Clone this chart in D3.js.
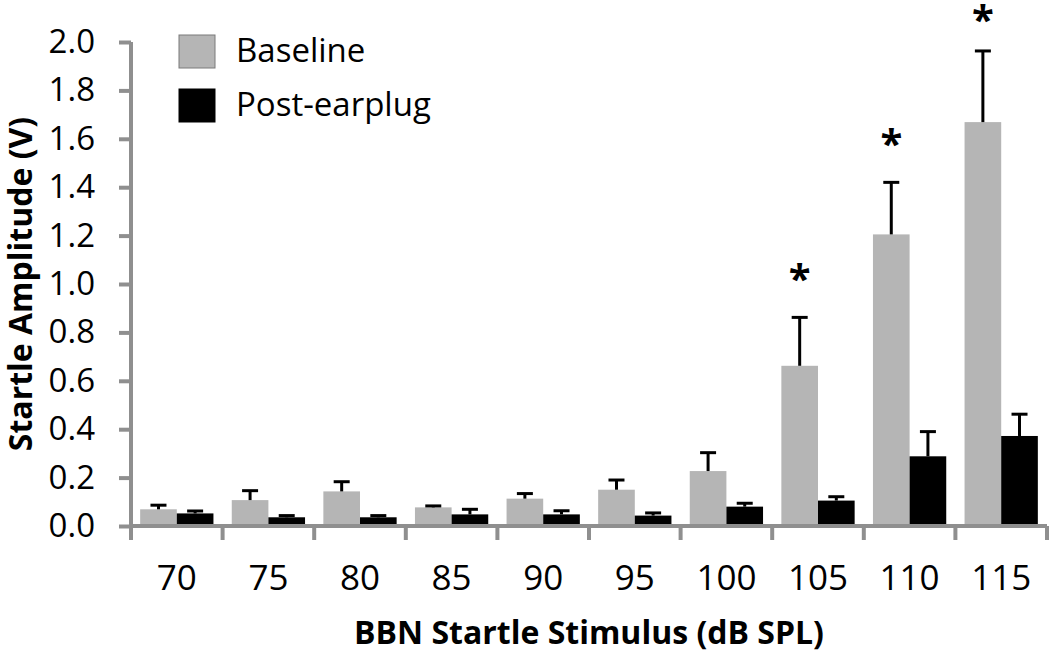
<!DOCTYPE html>
<html>
<head>
<meta charset="utf-8">
<script src="https://cdn.jsdelivr.net/npm/d3@7"></script>
<style>
  body { margin: 0; background: #fff; }
  svg { font-family: "Open Sans", sans-serif; }
</style>
</head>
<body>
<div id="chart"></div>
<script>
// data
var stimulus = ["70", "75", "80", "85", "90", "95", "100", "105", "110", "115"];
var baseline = [0.069, 0.107, 0.143, 0.077, 0.113, 0.150, 0.227, 0.662, 1.205, 1.669];
var baselineErr = [0.017, 0.039, 0.040, 0.006, 0.021, 0.040, 0.076, 0.200, 0.215, 0.294];
var postEarplug = [0.052, 0.036, 0.036, 0.048, 0.048, 0.043, 0.080, 0.105, 0.288, 0.372];
var postEarplugErr = [0.010, 0.007, 0.007, 0.021, 0.015, 0.011, 0.014, 0.016, 0.102, 0.090];
var significant = ["105", "110", "115"];
var yTicks = [0, 0.2, 0.4, 0.6, 0.8, 1.0, 1.2, 1.4, 1.6, 1.8, 2.0];

var svgWidth = 1050;
var svgHeight = 653;
var margin = { top: 42, right: 3, bottom: 127, left: 131 };
var width = svgWidth - margin.left - margin.right;
var height = svgHeight - margin.top - margin.bottom;

var svg = d3.select("#chart")
  .append("svg")
  .attr("width", svgWidth)
  .attr("height", svgHeight);

var chartGroup = svg.append("g")
  .attr("transform", `translate(${margin.left}, ${margin.top})`);

var series = [
  { name: "Baseline", values: baseline, err: baselineErr, fill: "#b5b5b5" },
  { name: "Post-earplug", values: postEarplug, err: postEarplugErr, fill: "#000000" }
];

// scales
var x0 = d3.scaleBand()
  .domain(stimulus)
  .range([0, width])
  .paddingInner(0.2)
  .paddingOuter(0.1);

var x1 = d3.scaleBand()
  .domain(series.map(s => s.name))
  .range([0, x0.bandwidth()]);

var y = d3.scaleLinear()
  .domain([0, 2.0])
  .range([height, 0]);

var axisColor = "#8f8f8f";

// bars
series.forEach(function(s) {
  var g = chartGroup.append("g");
  g.selectAll("rect")
    .data(stimulus)
    .enter()
    .append("rect")
    .attr("x", (d) => x0(d) + x1(s.name))
    .attr("y", (d, i) => y(s.values[i]))
    .attr("width", x1.bandwidth())
    .attr("height", (d, i) => y(0) - y(s.values[i]))
    .attr("fill", s.fill);

  // upper error bars
  g.selectAll("line.err")
    .data(stimulus)
    .enter()
    .append("line")
    .attr("class", "err")
    .attr("x1", (d) => x0(d) + x1(s.name) + x1.bandwidth() / 2)
    .attr("x2", (d) => x0(d) + x1(s.name) + x1.bandwidth() / 2)
    .attr("y1", (d, i) => y(s.values[i]))
    .attr("y2", (d, i) => y(s.values[i] + s.err[i]))
    .attr("stroke", "#000")
    .attr("stroke-width", 3);

  g.selectAll("line.cap")
    .data(stimulus)
    .enter()
    .append("line")
    .attr("class", "cap")
    .attr("x1", (d) => x0(d) + x1(s.name) + x1.bandwidth() / 2 - 8)
    .attr("x2", (d) => x0(d) + x1(s.name) + x1.bandwidth() / 2 + 8)
    .attr("y1", (d, i) => y(s.values[i] + s.err[i]))
    .attr("y2", (d, i) => y(s.values[i] + s.err[i]))
    .attr("stroke", "#000")
    .attr("stroke-width", 3);
});

// significance stars (kept inside the top edge)
chartGroup.selectAll("text.star")
  .data(significant)
  .enter()
  .append("text")
  .attr("class", "star")
  .attr("x", d => x0(d) + x1("Baseline") + x1.bandwidth() / 2)
  .attr("y", function(d) {
    var i = stimulus.indexOf(d);
    var c = y(baseline[i] + baselineErr[i]) - 46;
    return Math.max(c, 12 - margin.top) + 22;
  })
  .attr("text-anchor", "middle")
  .style("font-size", "40px")
  .style("font-weight", "bold")
  .text("*");

// y axis
var leftAxis = d3.axisLeft(y)
  .tickValues(yTicks)
  .tickFormat(d3.format(".1f"))
  .tickSize(12)
  .tickPadding(24);

var yAxisG = chartGroup.append("g").call(leftAxis);
yAxisG.select(".domain").remove();
yAxisG.append("line")
  .attr("x1", 0).attr("x2", 0)
  .attr("y1", y(0) + 2).attr("y2", y(2.0))
  .attr("stroke", axisColor)
  .attr("stroke-width", 4);
yAxisG.selectAll(".tick line").attr("stroke", axisColor).attr("stroke-width", 4);
yAxisG.selectAll(".tick text")
  .attr("fill", "#000")
  .style("font-size", "33px")
  .style("font-family", "'Open Sans', sans-serif");

// x axis: ticks at category boundaries
var boundaries = stimulus.map(d => x0(d) - x0.step() * x0.paddingInner() / 2);
boundaries.push(width);

var xAxisG = chartGroup.append("g")
  .attr("transform", `translate(0, ${height})`);
xAxisG.append("line")
  .attr("x1", -2).attr("x2", width)
  .attr("y1", 0).attr("y2", 0)
  .attr("stroke", axisColor)
  .attr("stroke-width", 4);
xAxisG.selectAll("line.tick")
  .data(boundaries)
  .enter()
  .append("line")
  .attr("class", "tick")
  .attr("x1", d => d).attr("x2", d => d)
  .attr("y1", 0).attr("y2", 14)
  .attr("stroke", axisColor)
  .attr("stroke-width", 4);
xAxisG.selectAll("text")
  .data(stimulus)
  .enter()
  .append("text")
  .attr("x", d => x0(d) + x0.bandwidth() / 2)
  .attr("y", 64)
  .attr("text-anchor", "middle")
  .style("font-size", "35px")
  .text(d => d);

// axis titles
svg.append("text")
  .attr("x", margin.left + width / 2)
  .attr("y", 644)
  .attr("text-anchor", "middle")
  .style("font-size", "32px")
  .style("font-weight", "bold")
  .text("BBN Startle Stimulus (dB SPL)");

svg.append("text")
  .attr("transform", `translate(32, ${margin.top + height / 2}) rotate(-90)`)
  .attr("text-anchor", "middle")
  .style("font-size", "32px")
  .style("font-weight", "bold")
  .text("Startle Amplitude (V)");

// legend
var legend = svg.append("g")
  .attr("transform", "translate(179, 35)");
series.forEach(function(s, i) {
  legend.append("rect")
    .attr("x", 0)
    .attr("y", i * 54)
    .attr("width", 36)
    .attr("height", 33)
    .attr("fill", s.fill)
    .attr("stroke", i === 0 ? "#7a7a7a" : "#000")
    .attr("stroke-width", 1);
  legend.append("text")
    .attr("x", 57)
    .attr("y", i * 54 + 27)
    .style("font-size", "33px")
    .text(s.name);
});
</script>
</body>
</html>
